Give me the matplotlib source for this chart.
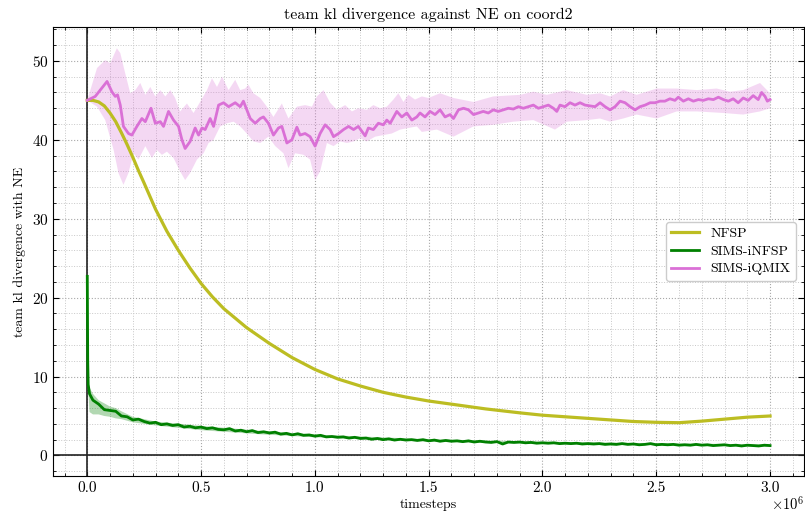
import numpy as np
import matplotlib
matplotlib.use("Agg")
import matplotlib.pyplot as plt
from matplotlib.ticker import MultipleLocator, FuncFormatter

plt.rcParams.update({
    "font.family": "serif",
    "font.serif": ["cmr10", "DejaVu Serif"],
    "mathtext.fontset": "cm",
    "axes.formatter.use_mathtext": True,
    "axes.unicode_minus": False,
})

# ---- NFSP (mean curve, timesteps in millions) ----
nfsp_t = [0.0, 0.025, 0.05, 0.075, 0.1, 0.125, 0.15, 0.175, 0.2, 0.225, 0.25,
          0.3, 0.35, 0.4, 0.45, 0.5, 0.55, 0.6, 0.7, 0.8, 0.9, 1.0, 1.1, 1.2,
          1.3, 1.4, 1.5, 1.6, 1.75, 1.9, 2.0, 2.1, 2.25, 2.4, 2.5, 2.6, 2.7,
          2.8, 2.9, 3.0]
nfsp_kl = [45.0, 45.0, 44.8, 44.3, 43.4, 42.3, 40.9, 39.4, 37.8, 36.1, 34.5,
           31.2, 28.4, 26.0, 23.8, 21.8, 20.1, 18.6, 16.2, 14.2, 12.4, 10.9,
           9.7, 8.8, 8.0, 7.4, 6.9, 6.5, 5.9, 5.4, 5.1, 4.9, 4.6, 4.3, 4.2,
           4.15, 4.35, 4.6, 4.85, 5.0]

# ---- SIMS-iNFSP ----
infsp_t = [0.0, 0.002, 0.004, 0.01] + [round(0.025 * k, 3) for k in range(1, 121)]
infsp_kl = [22.7, 12.0, 9.0, 7.8,
            7.0, 6.5, 5.8, 5.7, 5.6, 5.0, 4.9, 4.5, 4.6, 4.3,
            4.1, 4.2, 3.9, 4.0, 3.8, 3.9, 3.6, 3.7, 3.5, 3.6,
            3.4, 3.5, 3.3, 3.25, 3.4, 3.1, 3.2, 3.0, 3.15, 2.9,
            3.0, 2.85, 2.95, 2.7, 2.8, 2.6, 2.75, 2.55, 2.6, 2.45,
            2.55, 2.35, 2.4, 2.3, 2.35, 2.2, 2.3, 2.15, 2.2, 2.05,
            2.15, 2.0, 2.1, 1.95, 2.05, 1.95, 2.0, 1.9, 2.0, 1.85,
            1.95, 1.8, 1.9, 1.8, 1.85, 1.75, 1.85, 1.7, 1.8, 1.7,
            1.65, 1.75, 1.45, 1.7, 1.65, 1.7, 1.6, 1.65, 1.55, 1.6,
            1.55, 1.6, 1.5, 1.55, 1.5, 1.55, 1.45, 1.5, 1.45, 1.5,
            1.4, 1.45, 1.4, 1.5, 1.4, 1.45, 1.35, 1.4, 1.5, 1.35,
            1.4, 1.35, 1.4, 1.3, 1.35, 1.3, 1.4, 1.3, 1.35, 1.25,
            1.3, 1.35, 1.25, 1.3, 1.2, 1.3, 1.25, 1.2, 1.3, 1.25]
infsp_band_t = [0.0, 0.004, 0.01, 0.025, 0.05, 0.075, 0.1, 0.125, 0.15, 0.2,
                0.3, 0.5, 0.75, 1.0, 1.5, 2.0, 2.5, 3.0]
infsp_lo = [22.7, 8.5, 5.5, 5.2, 5.2, 5.0, 4.9, 4.7, 4.6, 4.2,
            3.8, 3.2, 2.7, 2.3, 1.75, 1.45, 1.3, 1.1]
infsp_hi = [22.7, 9.3, 8.6, 7.8, 7.0, 6.6, 6.2, 6.0, 5.6, 4.9,
            4.3, 3.75, 3.15, 2.65, 2.05, 1.75, 1.55, 1.4]

# ---- SIMS-iQMIX ----
iqmix_t = [0.0, 0.035, 0.057, 0.087, 0.108, 0.123, 0.133, 0.145, 0.159, 0.181,
           0.196, 0.218, 0.240, 0.255, 0.280, 0.299, 0.321, 0.335, 0.357, 0.379,
           0.401, 0.416, 0.430, 0.452, 0.474, 0.489, 0.504, 0.518, 0.540, 0.555,
           0.577, 0.599, 0.621, 0.650, 0.672, 0.686, 0.701, 0.716, 0.738, 0.760,
           0.774, 0.796, 0.818, 0.840, 0.855, 0.877, 0.899, 0.921, 0.935, 0.957,
           0.979, 1.001, 1.023, 1.045, 1.067, 1.082, 1.104, 1.126, 1.148, 1.170,
           1.191, 1.221, 1.235, 1.257, 1.279, 1.301, 1.316, 1.331, 1.360, 1.382,
           1.404, 1.426, 1.448, 1.462, 1.484, 1.506, 1.528, 1.550, 1.572, 1.594,
           1.609, 1.631, 1.653, 1.675, 1.697, 1.718, 1.740, 1.762, 1.784, 1.806,
           1.828, 1.850, 1.872, 1.894, 1.916, 1.938, 1.960, 1.982, 2.004, 2.026,
           2.048, 2.063, 2.077, 2.099, 2.121, 2.143, 2.165, 2.187, 2.209, 2.231,
           2.253, 2.275, 2.297, 2.319, 2.341, 2.363, 2.385, 2.407, 2.429, 2.451,
           2.473, 2.495, 2.516, 2.538, 2.560, 2.582, 2.597, 2.619, 2.641, 2.663,
           2.685, 2.707, 2.729, 2.751, 2.773, 2.795, 2.817, 2.838, 2.860, 2.882,
           2.904, 2.926, 2.948, 2.963, 2.978, 2.988, 3.000]
iqmix_kl = [45.0, 45.5, 46.3, 47.4, 46.1, 45.5, 45.7, 44.4, 41.7, 40.8,
            40.6, 41.7, 42.7, 42.3, 44.0, 42.1, 42.3, 41.7, 43.6, 42.5,
            41.7, 40.0, 38.9, 39.8, 41.5, 40.6, 41.5, 41.3, 42.7, 41.7,
            44.4, 44.7, 44.2, 44.7, 44.2, 44.9, 43.8, 42.7, 42.1, 42.7,
            42.9, 42.1, 40.6, 41.5, 41.7, 39.6, 40.0, 41.6, 40.6, 40.8,
            40.4, 39.2, 40.8, 41.9, 41.3, 40.4, 40.8, 41.3, 41.7, 41.3,
            41.7, 40.5, 41.5, 41.3, 42.1, 41.9, 42.5, 42.1, 43.6, 42.9,
            43.4, 42.5, 42.9, 43.4, 42.9, 43.6, 43.2, 43.8, 42.9, 43.2,
            42.7, 43.8, 44.0, 43.8, 43.2, 43.4, 43.6, 43.4, 43.8, 43.6,
            43.8, 44.0, 43.9, 44.2, 44.0, 44.2, 44.4, 44.0, 44.2, 44.4,
            44.0, 43.6, 44.4, 44.2, 44.7, 44.4, 44.7, 44.4, 44.3, 44.2,
            44.7, 44.2, 43.8, 44.2, 44.9, 44.7, 44.2, 43.8, 44.2, 44.4,
            44.7, 44.7, 44.9, 44.9, 45.2, 45.0, 45.4, 44.9, 45.2, 44.9,
            45.1, 45.0, 45.2, 45.1, 45.4, 45.1, 44.9, 45.2, 44.7, 45.3,
            45.0, 45.6, 45.1, 46.0, 45.5, 44.9, 45.1]
iqmix_hi_t = [0.0, 0.043, 0.079, 0.101, 0.130, 0.145, 0.167, 0.189, 0.211, 0.233,
              0.255, 0.277, 0.299, 0.321, 0.343, 0.365, 0.386, 0.408, 0.438, 0.467,
              0.496, 0.526, 0.548, 0.570, 0.592, 0.621, 0.650, 0.672, 0.694, 0.708,
              0.730, 0.760, 0.789, 0.818, 0.855, 0.884, 0.921, 0.957, 0.987, 1.009,
              1.038, 1.067, 1.097, 1.133, 1.163, 1.191, 1.228, 1.257, 1.287, 1.316,
              1.345, 1.367, 1.389, 1.411, 1.440, 1.470, 1.499, 1.550, 1.609, 1.697,
              1.784, 1.902, 1.960, 2.019, 2.107, 2.195, 2.253, 2.297, 2.355, 2.414,
              2.502, 2.590, 2.678, 2.765, 2.824, 2.882, 2.956, 3.000]
iqmix_hi = [45.0, 49.1, 50.1, 49.7, 51.6, 51.0, 48.4, 45.9, 46.3, 47.2,
            45.7, 46.7, 45.5, 46.3, 45.5, 46.3, 45.3, 43.6, 44.6, 43.4,
            44.8, 46.3, 47.8, 46.7, 48.0, 46.3, 47.6, 46.3, 46.5, 47.0,
            45.9, 45.3, 44.2, 42.9, 44.6, 42.7, 44.2, 44.4, 44.2, 45.5,
            46.3, 44.7, 43.8, 44.4, 43.6, 44.0, 43.8, 44.4, 44.0, 44.2,
            45.1, 45.9, 44.8, 45.7, 45.1, 45.5, 45.3, 45.9, 45.3, 44.8,
            45.5, 45.7, 46.1, 45.7, 46.3, 45.7, 45.9, 45.5, 46.3, 45.7,
            46.5, 46.5, 46.3, 46.5, 46.1, 46.3, 47.2, 45.9]
iqmix_lo_t = [0.0, 0.043, 0.079, 0.116, 0.137, 0.159, 0.181, 0.203, 0.225, 0.255,
              0.284, 0.306, 0.328, 0.350, 0.379, 0.408, 0.430, 0.452, 0.482, 0.511,
              0.533, 0.555, 0.584, 0.614, 0.643, 0.672, 0.701, 0.730, 0.760, 0.796,
              0.826, 0.862, 0.884, 0.913, 0.950, 0.979, 1.001, 1.023, 1.053, 1.082,
              1.111, 1.141, 1.170, 1.199, 1.228, 1.265, 1.301, 1.338, 1.375, 1.411,
              1.448, 1.470, 1.536, 1.609, 1.697, 1.784, 1.872, 1.960, 2.055, 2.107,
              2.195, 2.253, 2.297, 2.355, 2.414, 2.502, 2.590, 2.678, 2.795, 2.882,
              2.956, 3.000]
iqmix_lo = [45.0, 44.2, 42.5, 38.7, 35.8, 34.3, 35.8, 38.3, 37.5, 39.2,
            37.7, 38.7, 38.1, 38.5, 37.7, 36.0, 34.9, 35.8, 37.5, 38.3,
            39.6, 40.0, 41.7, 42.1, 42.3, 41.7, 40.8, 39.8, 39.6, 40.4,
            39.2, 38.3, 36.4, 38.3, 38.1, 37.5, 34.9, 36.0, 39.6, 39.2,
            39.8, 39.6, 39.8, 40.2, 39.8, 40.4, 40.6, 40.8, 41.3, 41.5,
            41.7, 41.0, 41.3, 40.4, 41.7, 41.9, 42.3, 42.5, 41.3, 42.3,
            42.5, 42.7, 42.3, 42.7, 43.2, 42.7, 43.6, 43.6, 43.4, 43.2,
            43.6, 44.0]

labels = ["NFSP", "SIMS-iNFSP", "SIMS-iQMIX"]
colors = ["#bcbd22", "#008000", "#da70d6"]
scale = 1e6

fig = plt.figure(figsize=(8.05, 5.14), dpi=100)
ax = fig.add_axes([0.066, 0.074, 0.933, 0.8735])

# shaded spread
ax.fill(np.concatenate([np.array(infsp_band_t), np.array(infsp_band_t)[::-1]]) * scale,
        np.concatenate([infsp_hi, infsp_lo[::-1]]),
        color=colors[1], alpha=0.3, lw=0)
ax.fill(np.concatenate([np.array(iqmix_hi_t), np.array(iqmix_lo_t)[::-1]]) * scale,
        np.concatenate([iqmix_hi, iqmix_lo[::-1]]),
        color=colors[2], alpha=0.27, lw=0)

ax.plot(np.array(nfsp_t) * scale, nfsp_kl, color=colors[0], lw=2.3, label=labels[0])
ax.plot(np.array(infsp_t) * scale, infsp_kl, color=colors[1], lw=2.0, label=labels[1])
ax.plot(np.array(iqmix_t) * scale, iqmix_kl, color=colors[2], lw=2.0, label=labels[2])

ax.axhline(0, color="#222222", lw=1.2, zorder=1)
ax.axvline(0, color="#222222", lw=1.2, zorder=1)

ax.set_xlim(-0.15e6, 3.15e6)
ax.set_ylim(-2.6, 54.3)
ax.xaxis.set_major_locator(MultipleLocator(0.5e6))
ax.xaxis.set_minor_locator(MultipleLocator(0.1e6))
ax.yaxis.set_major_locator(MultipleLocator(10))
ax.yaxis.set_minor_locator(MultipleLocator(2))

# x tick labels in units of 1e6, with the multiplier written at the axis end
ax.xaxis.set_major_formatter(FuncFormatter(lambda v, _: f"{v / scale:.1f}"))
ax.text(1.0, -0.042, r"$\times10^{6}$", transform=ax.transAxes,
        ha="right", va="top", fontsize=10.5)

ax.grid(which="major", linestyle=":", color="#a8a8a8", lw=0.8)
ax.grid(which="minor", linestyle=":", color="#c8c8c8", lw=0.7)
ax.set_axisbelow(True)

ax.tick_params(which="both", direction="in", top=True, right=True, labelsize=11)
ax.tick_params(which="major", length=4, width=0.8)
ax.tick_params(which="minor", length=2, width=0.6)

ax.set_title("team kl divergence against NE on coord2", fontsize=11.5)
ax.set_xlabel("timesteps", fontsize=10, labelpad=3)
ax.set_ylabel("team kl divergence with NE", fontsize=10)

ax.legend(loc="center right", fontsize=10, frameon=True, fancybox=True,
          edgecolor="#cccccc", framealpha=1.0, borderaxespad=0.6,
          labelspacing=0.35)

fig.savefig("out.png", dpi=100)
